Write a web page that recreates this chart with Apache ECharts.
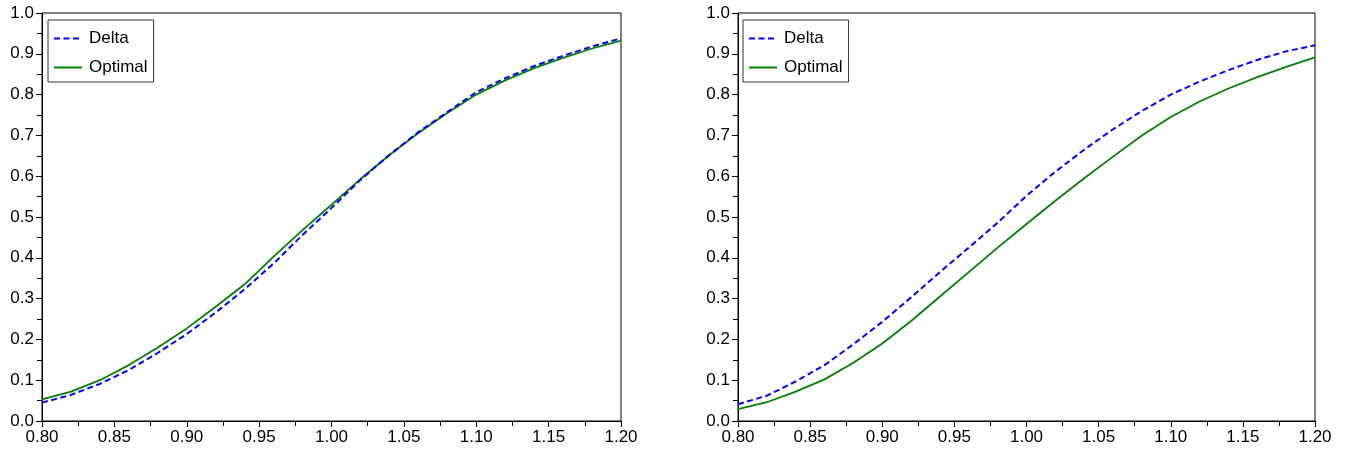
<!DOCTYPE html>
<html>
<head>
<meta charset="utf-8">
<script src="https://cdn.jsdelivr.net/npm/echarts@6/dist/echarts.min.js"></script>
<style>html,body{margin:0;padding:0;background:#fff}#c{width:1346px;height:454px}</style>
</head>
<body>
<div id="c"></div>
<script>
const xValues = [0.80,0.82,0.84,0.86,0.88,0.90,0.92,0.94,0.96,0.98,1.00,1.02,1.04,1.06,1.08,1.10,1.12,1.14,1.16,1.18,1.20];
const leftDelta   = [0.045,0.064,0.091,0.125,0.167,0.213,0.266,0.323,0.386,0.456,0.522,0.591,0.652,0.708,0.757,0.806,0.840,0.870,0.895,0.918,0.938];
const leftOptimal = [0.053,0.072,0.100,0.137,0.180,0.227,0.280,0.335,0.403,0.468,0.530,0.593,0.652,0.706,0.755,0.800,0.835,0.865,0.890,0.913,0.932];
const rightDelta   = [0.041,0.062,0.097,0.137,0.188,0.243,0.303,0.365,0.425,0.486,0.552,0.611,0.665,0.715,0.760,0.800,0.832,0.860,0.885,0.906,0.921];
const rightOptimal = [0.029,0.046,0.072,0.102,0.143,0.190,0.245,0.305,0.365,0.425,0.483,0.540,0.595,0.648,0.700,0.745,0.783,0.815,0.843,0.868,0.891];
const seriesNames = ['Delta','Optimal'];

const pair = (ys) => xValues.map((x,i)=>[x, ys[i]]);
const FONT = 'Liberation Sans, Arial, sans-serif';

function xAxis(gi){
  return {type:'value', gridIndex:gi, min:0.8, max:1.2, interval:0.05,
    axisLine:{show:true, lineStyle:{color:'#000', width:1}},
    axisTick:{show:true, inside:false, length:6, lineStyle:{color:'#000'}},
    minorTick:{show:true, splitNumber:2, length:5, lineStyle:{color:'#000'}},
    splitLine:{show:false},
    axisLabel:{color:'#000', fontSize:17, fontFamily:FONT, margin:8, formatter:v=>v.toFixed(2)}};
}
function yAxis(gi){
  return {type:'value', gridIndex:gi, min:0, max:1, interval:0.1,
    axisLine:{show:true, lineStyle:{color:'#000', width:1}},
    axisTick:{show:true, inside:false, length:6, lineStyle:{color:'#000'}},
    minorTick:{show:true, splitNumber:2, length:5, lineStyle:{color:'#000'}},
    splitLine:{show:false},
    axisLabel:{color:'#000', fontSize:17, fontFamily:FONT, margin:8, formatter:v=>v.toFixed(1)}};
}
function line(name, data, gi){
  const dashed = name === 'Delta';
  return {type:'line', name, xAxisIndex:gi, yAxisIndex:gi, data, symbol:'none', showSymbol:false, smooth:false,
    animation:false, z: dashed ? 3 : 2,
    lineStyle:{color: dashed ? '#0000ff' : '#008000', width: dashed ? 2 : 1.8, type: dashed ? [6,3.5] : 'solid'},
    itemStyle:{color: dashed ? '#0000ff' : '#008000'}};
}
function legend(left){
  return {left, top:20, orient:'vertical', data:seriesNames, itemWidth:28, itemHeight:14, itemGap:12,
    padding:[10,6,6,5], backgroundColor:'#fff', borderColor:'#333', borderWidth:1, borderRadius:0,
    itemStyle:{opacity:0},
    textStyle:{color:'#000', fontSize:17, fontFamily:FONT, padding:[0,0,0,2]}, selectedMode:false};
}

const chart = echarts.init(document.getElementById('c'), null, {renderer:'canvas'});
chart.setOption({
  animation:false,
  backgroundColor:'#fff',
  grid:[
    {left:42, right:725, top:13, bottom:33, show:true, borderColor:'#000', borderWidth:1, backgroundColor:'transparent'},
    {left:738, right:31, top:13, bottom:33, show:true, borderColor:'#000', borderWidth:1, backgroundColor:'transparent'}
  ],
  xAxis:[xAxis(0), xAxis(1)],
  yAxis:[yAxis(0), yAxis(1)],
  legend:[legend(48), legend(743)],
  series:[
    line('Delta', pair(leftDelta), 0),
    line('Optimal', pair(leftOptimal), 0),
    line('Delta', pair(rightDelta), 1),
    line('Optimal', pair(rightOptimal), 1)
  ]
});
</script>
</body>
</html>
